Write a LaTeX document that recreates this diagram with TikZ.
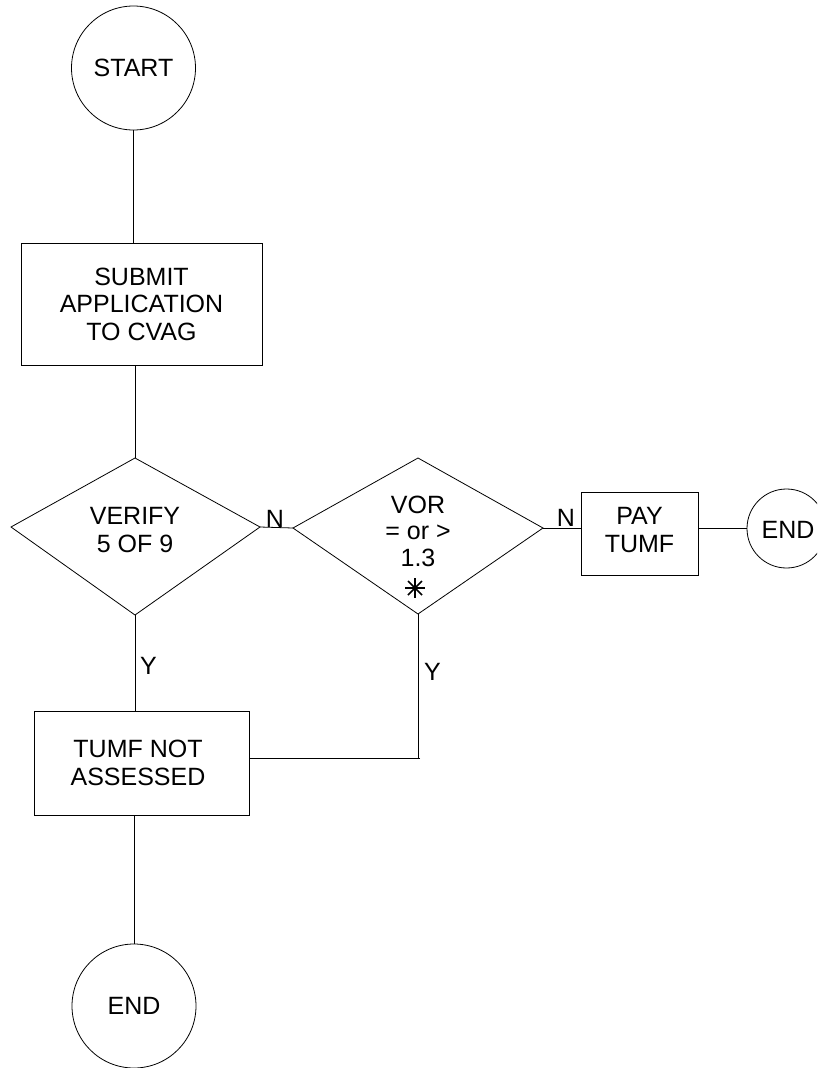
\documentclass[tikz,border=0pt]{standalone}
\usepackage{fontspec}
\setmainfont{Liberation Sans}
\usetikzlibrary{calc}
\begin{document}
\begin{tikzpicture}[x=1pt,y=-1pt,
  every node/.style={font=\fontsize{25}{27.5}\selectfont, align=center, inner sep=0pt},
  conn/.style={draw=black, line width=0.8pt},
  shape line/.style={draw=black, line width=0.8pt},
  circ/.style={shape line, circle},
  procbox/.style={shape line, rectangle},
  lbl/.style={font=\fontsize{25}{27.5}\selectfont},
  starline/.style={line width=1.5pt}]
\clip (0,0) rectangle (817,1068);
\useasboundingbox (0,0) rectangle (817,1068);
\fill[white] (0,0) rectangle (817,1068);

% start
\node[circ, minimum size=124pt] (start) at (133.5,68) {START};
% submit
\node[procbox, minimum width=241pt, minimum height=122pt] (submit) at (141.5,304) {SUBMIT\\APPLICATION\\TO CVAG};
% verify diamond (kite)
\coordinate (vt) at (135,458);
\coordinate (vl) at (11,527);
\coordinate (vr) at (260,527);
\coordinate (vb) at (135,615);
\draw[shape line] (vt) -- (vr) -- (vb) -- (vl) -- cycle;
\node (verify) at (135,530) {VERIFY\\5 OF 9};
% VOR diamond
\coordinate (wt) at (418,458);
\coordinate (wl) at (293,528);
\coordinate (wr) at (543,528);
\coordinate (wb) at (418,614);
\draw[shape line] (wt) -- (wr) -- (wb) -- (wl) -- cycle;
\node[font=\fontsize{25}{26.5}\selectfont] (vor) at (418,531) {VOR\\= or >\\1.3};
% star symbol
\coordinate (star) at (415,588);
\draw[starline] ($(star)+(-10,0)$) -- ($(star)+(10,0)$);
\draw[line width=2pt] ($(star)+(0,-10)$) -- ($(star)+(0,10)$);
\draw[starline] ($(star)+(-7,-7)$) -- ($(star)+(7,7)$);
\draw[starline] ($(star)+(-7,7)$) -- ($(star)+(7,-7)$);
% pay
\node[procbox, minimum width=117pt, minimum height=83pt] (pay) at (639.5,533.5) {};
\node (paytext) at (639.5,530) {PAY\\TUMF};
% end right
\node[circ, minimum size=79pt] (endr) at (786.5,528.5) {};
\node (endrtext) at (788,530) {END};
% tumf not assessed
\node[procbox, minimum width=215pt, minimum height=104pt] (tumf) at (141.5,763) {};
\node (tumftext) at (138,763) {TUMF NOT\\ASSESSED};
% end bottom
\node[circ, minimum size=124pt] (endb) at (134,1006) {END};

% connectors
\draw[conn] (start.south) -- (start.south |- submit.north);
\draw[conn] (vt |- submit.south) -- (vt);
\draw[conn] (vr) -- (wl);
\draw[conn] (wr) -- (wr -| pay.west);
\draw[conn] (pay.east |- endr.west) -- (endr.west);
\draw[conn] (vb) -- (vb |- tumf.north);
\coordinate (j) at (420,758);
\draw[conn] (wb) -- (wb |- j);
\draw[conn] (j) -- (j -| tumf.east);
\draw[conn] (endb.north |- tumf.south) -- (endb.north);

% labels
\node[lbl] (n1) at (275,519) {N};
\node[lbl] (n2) at (566,518) {N};
\node[lbl, anchor=west] (y1) at (140,666) {Y};
\node[lbl, anchor=west] (y2) at (424,672) {Y};
\end{tikzpicture}
\end{document}
